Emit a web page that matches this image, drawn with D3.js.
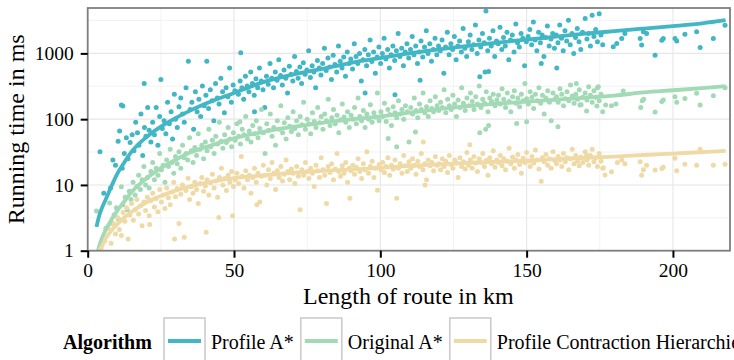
<!DOCTYPE html>
<html>
<head>
<meta charset="utf-8">
<script src="https://cdn.jsdelivr.net/npm/d3@7"></script>
<style>
  body { margin: 0; background: #fff; }
  svg { display: block; font-family: "Liberation Serif", "Times New Roman", serif; }
</style>
</head>
<body>
<svg id="chart" width="734" height="360"></svg>
<script>
// legend / series
const algorithms = ["Profile A*", "Original A*", "Profile Contraction Hierarchies"];
const colors = ["#41b6c4", "#a1dab4", "#efdaa6"];

const xTicks = [0, 50, 100, 150, 200];
const yTicks = [1, 10, 100, 1000];

// [route length in km, running time in ms]
const profileAStar = [
  [4.2,32],[5.5,7.5],[7.8,9],[8.6,24],[9.5,20],
  [10.4,46],[10.9,66],[11.5,164],[11.8,18],[12,158],[12.5,30],[13.2,52],[13.8,25],[14.5,44],[15.2,58],[15.8,33],[16.4,90],[17,62],[17.5,40],[18.2,120],[18.8,28],[19.3,350],[19.4,75],[19.9,55],
  [20.5,150],[21,68],[21.6,45],[22.2,90],[22.8,58],[23.4,150],[24,40],[24.6,110],[25,400],[25.5,72],[26.1,95],[26.7,60],[27.3,180],[27.9,85],[28.5,130],[29,50],[29.6,240],[30,100],
  [30.6,75],[31.2,155],[31.8,210],[32.4,120],[33,90],[33.6,300],[34.4,760],[35,140],[35.6,180],[36.2,70],[36.8,260],[37.4,130],[38,200],[38.6,110],[39.2,320],[39.8,160],[40.4,230],[40.7,760],
  [41.3,145],[41.9,280],[42.5,190],[43.1,95],[43.7,350],[44.3,210],[44.9,170],[45.5,420],[46.1,260],[46.7,125],[47.3,300],[47.9,220],[48.5,600],[49.1,180],[49.7,330],[50.3,270],[52.3,1020],
  [51.5,240],[52.1,380],[52.7,300],[53.3,200],[53.9,450],[54.5,320],[55.1,260],[55.7,520],[56.3,350],[56.9,230],[57,130],[57.5,410],[58.1,300],[58.7,600],[59.3,380],[59.9,280],
  [60.5,150],[61.1,450],[61.7,340],[62.3,700],[62.9,420],[63.5,300],[64.1,520],[64.7,390],[65.3,800],[65.9,460],[66.5,330],[67.1,560],[67.7,420],[68.3,250],[68.9,640],[69.5,480],
  [70.1,380],[70.7,900],[71.3,530],[71.9,420],[72.5,620],[73.1,350],[73.7,720],[74.3,480],[74.9,560],[75.5,1100],[76.1,430],[76.7,650],[77.3,520],[77.9,300],[78.5,780],[79.1,600],[79.7,470],
  [80.3,700],[80.9,1200],[81.5,550],[82.1,850],[82.7,620],[83.3,400],[83.9,940],[84.5,680],[85.1,520],[85.7,1300],[86.3,760],[86.9,600],[87.5,880],[88.1,450],[88.7,1050],[89.3,700],[89.9,820],
  [90.5,580],[91.1,1400],[91.7,900],[92.3,700],[92.9,1000],[93.5,380],[94.1,800],[94.7,1150],[94.8,250],[95.3,650],[95.9,950],[96.5,1600],[97.1,750],[97.7,1050],[98.3,500],[98.9,880],[99.5,1250],
  [100.1,700],[100.7,1000],[101.3,1700],[101.9,820],[102.5,1150],[103.1,600],[103.7,950],[104.3,1300],[104.9,780],[105,235],[105.5,1100],[106.1,2000],[106.7,900],[107.3,1200],[107.9,650],[108.5,1050],[109.1,1400],[109.7,850],
  [110.3,1150],[110.9,1800],[111.5,950],[112.1,1300],[112.7,700],[113.3,1050],[113.6,390],[113.9,1550],[114.5,880],[115.1,1250],[115.7,2200],[116.3,1000],[116.9,1400],[117.5,760],[118.1,1150],[118.7,1700],[119.3,950],[119.9,1300],
  [120.5,1100],[121.1,1600],[121.7,500],[122.3,1250],[122.9,2100],[123.5,950],[124.1,1400],[124.7,1150],[125.3,1800],[125.9,800],[126.5,1300],[127.1,1550],[127.7,1050],[128.3,2400],[128.9,1200],[129.5,900],
  [130.1,1500],[130.7,1900],[131.3,1150],[131.9,1350],[132.5,2700],[133.1,1000],[133.7,1600],[134,440],[134.3,1250],[134.9,2000],[135.5,1450],[135.8,520],[136.1,4400],[136.7,1100],[137,530],[137.3,1700],[137.9,1300],[138.5,2200],[139.1,900],[139.7,1550],
  [140.3,1400],[140.9,2500],[141.5,1150],[142.1,1750],[142.7,1300],[143.3,2100],[143.9,800],[144.5,1600],[145.1,1900],[145.7,1050],[146.3,2800],[146.9,1450],[147.5,1250],[148.1,2000],[148.7,1700],[149.3,650],[149.9,1500],
  [150.5,1800],[151.1,2300],[151.7,1350],[152.3,3000],[152.9,1600],[153.5,1100],[154.1,2100],[154.7,1450],[155,700],[155.3,1900],[155.9,900],[156.5,1750],[157.1,2600],[157.7,1300],[158.3,1650],[158.9,2000],[159.5,1200],
  [160.1,1900],[160.3,600],[160.7,1450],[161.3,2700],[161.9,1700],[162.5,1100],[163.1,2200],[163.7,1550],[164.3,3200],[164.9,1350],[165.5,2000],[166.1,1000],[166.7,1750],[167.3,2400],[167.9,1500],[168.5,1150],[169.1,2100],
  [170,3400],[170.6,1650],[171.2,2000],[171.8,1300],[172.4,3800],[173,1800],[173.6,2300],[174.2,1500],[174.8,4000],[175.4,1900],[176,1350],
  [179.6,1260],[180.8,1420],[182.5,1690],[183.6,2010],[188.8,1690],[189.3,1340],[189.9,2130],[191,2010],[193.9,940],[196.2,1590],[196.7,1690],[200.7,1690],[201.3,1540],[204.1,1950],[208.1,2130],[209.3,1230],[213.8,1690],[217.8,2690]
];

const originalAStar = [
  [3,4],[5,1.5],[6.2,2.2],[7.5,5.3],[8.3,2.6],[9,3.5],[9.8,4.5],
  [10.5,3],[11.5,9.4],[12,5],[12.8,6.5],[13.5,4.2],[14.2,8],[14.8,6],[15.5,11],[16.2,7],[16.8,9.5],[17.4,14],[18,8.5],[18.6,12],[19.2,19],[19.8,10],
  [20.4,13],[21,9],[21.6,16],[22.2,22],[22.8,12],[23.4,18],[24,14],[24.6,30],[25.2,17],[25.8,20],[26.4,11],[27,24],[27.6,19],[28.2,35],[28.8,22],[29.4,15],[30,27],
  [30.6,21],[31.2,32],[31.8,18],[32.4,40],[33,26],[33.6,30],[34.2,24],[34.8,52],[35.4,33],[36,22],[36.6,37],[37.2,28],[37.8,60],[38.4,35],[39,40],[39.6,25],
  [40.2,45],[40.8,33],[41.4,70],[42,38],[42.6,48],[43.2,30],[43.8,55],[44.4,42],[45,90],[45.6,46],[46.2,36],[46.8,58],[47.4,44],[48,75],[48.6,50],[49.2,38],[49.8,62],
  [50.4,48],[51,85],[51.6,55],[52,91],[52.2,42],[52.8,70],[53.4,58],[54,110],[54.6,50],[55.2,66],[55.8,45],[56.4,80],[57,60],[57.6,95],[58.2,52],[58.8,72],[59.4,140],[60,62],
  [60.6,30],[61.2,85],[61.8,68],[62.4,120],[63,55],[63.6,75],[64.2,40],[64.8,95],[65.4,70],[66,160],[66.6,62],[67.2,88],[67.8,50],[68.4,105],[69,78],[69.6,65],
  [70.2,130],[70.8,72],[71.4,95],[72,58],[72.6,110],[73.2,82],[73.8,180],[74.4,70],[75,100],[75.6,85],[76.2,60],[76.8,125],[77.4,92],[78,75],[78.6,150],[79.2,88],[79.8,110],
  [80.4,70],[81,120],[81.6,95],[82.2,200],[82.8,80],[83.4,105],[84,140],[84.6,85],[85.2,115],[85.8,62],[86.4,98],[87,170],[87.6,108],[88.2,90],[88.8,130],[89.4,75],[90,115],
  [90.6,100],[91.2,150],[91.8,85],[92.4,210],[93,110],[93.6,95],[94.2,135],[94.8,75],[95.4,120],[96,100],[96.6,165],[97.2,90],[97.8,125],[98.4,108],[99,250],[99.6,95],
  [100.2,130],[100.8,110],[101.4,175],[102,92],[102.6,140],[102.7,51],[103.2,118],[103.8,80],[104.4,155],[105,125],[105.6,38],[105.6,105],[106.2,190],[106.8,120],[107.4,140],[108,100],[108.6,160],[109.2,130],[109.8,45],
  [110.4,150],[111,120],[111.6,210],[112,64],[112.2,135],[112.8,105],[113.4,170],[114,140],[114.6,250],[115.2,125],[115.8,155],[116.4,110],[117,190],[117.6,145],[118.2,130],[118.8,220],[119.4,160],
  [120,135],[120.6,180],[121.2,150],[121.8,280],[122.4,125],[123,200],[123.6,160],[124.2,140],[124.8,230],[125.4,170],[126,110],[126.6,195],[127.2,150],[127.8,300],[128.4,175],[129,135],[129.6,210],
  [130.2,160],[130.8,250],[131.4,185],[132,140],[132.6,220],[133.2,170],[133.8,320],[134,62],[134.4,150],[135,200],[135.6,175],[136,70],[136.2,260],[136.8,130],[137,80],[137.4,210],[138,185],[138.6,240],[139.2,160],[139.8,195],
  [140.4,230],[141,170],[141.6,290],[142.2,200],[142.8,150],[143.4,250],[144,185],[144.6,130],[145.2,220],[145.8,270],[146.4,175],[146.6,86],[147,210],[147.6,155],[148.2,240],[148.8,190],[149.4,350],[150,205],[150,91],
  [150.6,170],[151.2,260],[151.8,215],[152.4,145],[153,240],[153.6,190],[154.2,300],[154.8,175],[155.4,230],[156,120],[156.6,210],[157.2,270],[157.8,180],[158.4,95],[159,250],[159.6,200],
  [160.2,220],[160.7,77],[160.8,180],[161.4,290],[162,240],[162.6,160],[163.2,205],[163.8,260],[164.4,190],[165,330],[165.6,225],[166.2,175],[166.8,240],[167,350],[167.4,200],[168,280],[168.2,164],[168.6,165],[169.2,215],
  [170,250],[170.5,133],[170.6,195],[171.2,310],[171.8,230],[172.4,180],[173,270],[173.6,215],[174,158],[174.2,300],[174.5,310],[174.8,190],[175.4,240],[176,130],
  [177,164],[179,160],[180.5,170],[183,268],[189,150],[189.5,190],[190,200],[193.9,129],[196.2,185],[196.7,195],[200.7,220],[201.3,180],[204.1,207],[208.1,247],[209.3,164],[213.8,227],[217.8,300]
];

const profileCH = [
  [4.6,1.1],[5.8,1.4],[7,2.2],[8,1.3],[8.8,2.6],[9.5,1.8],
  [10.2,3.2],[10.8,2.1],[11.5,1.7],[12.1,3.8],[12.7,2.8],[13.3,4.5],[13.8,1.5],[14.4,3.5],[15,5.2],[15.6,2.9],[16.2,4.2],[16.8,6],[17.4,3.6],[18,4.8],[18.6,2.4],[19.2,5.5],[19.8,4.1],
  [20.4,6.5],[21,3.4],[21.2,2.5],[21.6,5.8],[22.2,7.5],[22.8,4.6],[23.4,6.2],[24,3.9],[24.6,8.5],[25.2,5.5],[25.8,7],[26.4,4.4],[27,9],[27.6,6.4],[28.2,5],[28.8,7.8],[29.4,11],[29.7,1.5],
  [30,6.6],[30.6,8.8],[31.2,2.6],[31.8,7.2],[32.4,10],[33,1.6],[33.6,8.2],[34.3,12.6],[34.8,6],[35.4,9.4],[36,7.5],[36.6,11],[37.2,8.5],[37.8,5.2],[38.4,10.5],[39,13],[39.6,8],
  [40.2,9.6],[40.5,1.9],[40.8,12],[41.4,7],[42,10.8],[42.6,14.5],[43.2,9],[43.8,11.5],[44.4,6.5],[44.8,3.2],[45,13],[45.7,17.9],[46.2,10],[46.8,12.5],[47.4,8.2],[48,14],[48.6,11],[49.2,16],[49.5,3.4],[49.8,9.5],
  [50.4,12],[51,15],[51.6,10.5],[52.5,27],[52.8,13.5],[53.4,9],[54,16.5],[54.6,12],[55.2,14],[55.8,7.5],[56.4,13],[57,18],[57.6,11],[57.8,5],[58.2,15],[58.8,5.5],[59.4,13.5],[60,20],
  [60.6,14],[61.2,10],[61.8,17],[62.4,12.5],[63,22],[63.6,15],[64.2,8.5],[64.8,16.5],[65.4,13],[66,19],[66.6,11.5],[67.2,14.5],[67.8,24],[68.4,16],[69,12],[69.6,17.5],
  [70.2,15],[70.8,10.5],[71.4,19],[72,13.5],[72.6,4.2],[73.2,17],[73.8,14],[74.4,22],[75,16],[75.6,12.5],[76.2,18],[76.8,15],[77.4,9.5],[78,20],[78.6,16.5],[79.2,13],[79.8,26],
  [80.4,17],[81,14],[81.6,5.2],[82.2,19],[82.8,15.5],[83.4,21],[84,12],[84.6,17.5],[85.2,30],[85.8,16],[86.4,13.5],[87,19.5],[87.6,15],[88.2,22],[88.8,11],[89.4,18],[89.6,6.3],[90,16.5],
  [90.6,20],[91.2,14.5],[91.8,18.5],[92.4,25],[93,16],[93.6,12.5],[94.2,21],[94.8,17],[95.4,32],[96,15],[96.6,19],[97.2,23],[97.8,13],[98.4,18],[99,8.3],[99.6,20.5],
  [100.2,17],[100.8,22],[101.4,15.5],[102,19],[102.6,26],[103.2,14],[103.8,20],[104.4,17.5],[105,24],[105.6,6.3],[106.2,18],[106.8,21],[107.4,15],[108,28],[108.6,19.5],[109.2,16],[109.8,22.5],
  [110.4,18],[111,25],[111.6,20],[112.2,14.5],[112.8,23],[113.4,19],[114,30],[114.6,17],[114.7,45],[115.2,21],[115.3,10],[115.8,12],[116.4,24],[117,19.5],[117.6,22],[118.2,16.5],[118.8,27],[119.4,20],
  [120,21],[120.6,17],[121.2,25],[121.8,19],[122.4,23],[123,15.5],[123.6,28],[124.2,20.5],[124.8,18],[125.4,24],[126,21.5],[126.6,13],[127.2,26],[127.8,19],[128.4,22.5],[129,17.5],[129.6,31],
  [130.2,20],[130.6,41],[130.8,24],[131.4,18],[132,27],[132.6,21.5],[133.2,16],[133.8,25],[134.4,22],[135,30],[135.6,19],[136.2,23.5],[136.8,14],[137.4,26],[138,21],[138.6,33],[139.2,18.5],[139.8,24],
  [140.4,22],[141,28],[141.6,19.5],[142.2,25],[142.8,17],[143.4,23],[144,36],[144.6,21],[145.2,26.5],[145.8,18],[146.4,24],[147,29],[147.6,20.5],[148.2,15],[148.8,25.5],[149.4,22],[150,31],
  [150.6,23],[151.2,19],[151.8,27],[152.4,21.5],[153,34],[153.6,24],[154.2,17.5],[155,11.4],[155.4,26],[156,22.5],[156.6,29],[157.2,20],[157.8,25],[158.4,18],[159,32],[159.6,23.5],
  [160.2,21],[160.8,27],[161.4,24],[162,19],[162.6,30],[163.2,22.5],[163.8,26],[164.4,17],[165,25],[165.6,35],[166.2,21],[166.8,28],[167.4,23],[168,19.5],[168.6,26.5],[169.2,22],
  [170,32],[170.5,28.5],[170.6,24],[171.2,20],[171.8,28],[172.4,35],[173,22.5],[173.6,26],[174.2,19],[174.8,30],[175.4,23],[176,18],
  [176.2,18.3],[176.8,14.1],[179,15.9],[181,22],[182.5,24],[183.6,21],[188.8,22.5],[189.3,14],[189.9,17],[191,20],[193.9,16.8],[196.2,17.7],[196.7,18.5],[200.7,25.4],[201.3,16.4],[204.1,20.6],[208.1,20],[209.3,35],[213.8,20],[217.8,20.6]
];

// smoothed trend per algorithm
const trendKm = [3, 4, 5, 6, 8, 10, 12.5, 15, 20, 25, 30, 35, 40, 50, 60, 70, 80, 90, 100, 110, 120, 130, 140, 150, 160, 170, 180, 190, 200, 210, 218];
const trendProfileAStar = [2.3, 3.5, 4.6, 5.8, 9.3, 14.5, 22, 32, 53, 77, 104, 135, 170, 250, 365, 475, 580, 720, 850, 1000, 1150, 1300, 1460, 1620, 1800, 2000, 2180, 2380, 2600, 2870, 3200];
const trendOriginalAStar = [0.8, 1.2, 1.6, 2, 2.9, 4, 5.6, 7.8, 12.5, 18, 24, 31, 37, 51, 64, 76, 88, 99, 110, 126, 142, 158, 172, 185, 198, 212, 228, 255, 275, 296, 318];
const trendProfileCH = [0.6, 1.0, 1.2, 1.5, 2, 2.5, 3.2, 3.9, 5.4, 6.8, 8.2, 9.5, 10.7, 12.7, 14, 15.3, 16.3, 17.2, 18.2, 19.5, 20.6, 21.6, 22.5, 23.3, 24.6, 25.8, 27, 28.5, 30, 31.5, 33];

const points = [profileAStar, originalAStar, profileCH];
const trends = [trendProfileAStar, trendOriginalAStar, trendProfileCH];

const svg = d3.select("#chart");
const pLeft = 87.7, pRight = 730, pTop = 8, pBottom = 250.7;

const x = d3.scaleLinear().domain([0, 219.5]).range([pLeft, pRight]);
const y = d3.scaleLog().domain([1, 4900]).range([pBottom, pTop]);

// panel
svg.append("rect").attr("x", pLeft).attr("y", pTop)
  .attr("width", pRight - pLeft).attr("height", pBottom - pTop).attr("fill", "#fff");

const grid = svg.append("g");
// minor grid
grid.selectAll(".vminor").data([25, 75, 125, 175]).enter().append("line")
  .attr("x1", d => x(d)).attr("x2", d => x(d)).attr("y1", pTop).attr("y2", pBottom)
  .attr("stroke", "#f3f3f3").attr("stroke-width", 1);
grid.selectAll(".hminor").data([Math.sqrt(10), Math.sqrt(1000), Math.sqrt(100000), Math.sqrt(10000000)]).enter().append("line")
  .attr("x1", pLeft).attr("x2", pRight).attr("y1", d => y(d)).attr("y2", d => y(d))
  .attr("stroke", "#f3f3f3").attr("stroke-width", 1);
// major grid
grid.selectAll(".vmajor").data(xTicks).enter().append("line")
  .attr("x1", d => x(d)).attr("x2", d => x(d)).attr("y1", pTop).attr("y2", pBottom)
  .attr("stroke", "#e6e6e6").attr("stroke-width", 1.1);
grid.selectAll(".hmajor").data(yTicks).enter().append("line")
  .attr("x1", pLeft).attr("x2", pRight).attr("y1", d => y(d)).attr("y2", d => y(d))
  .attr("stroke", "#e6e6e6").attr("stroke-width", 1.1);

svg.append("clipPath").attr("id", "clip").append("rect")
  .attr("x", pLeft).attr("y", pTop).attr("width", pRight - pLeft).attr("height", pBottom - pTop);

const plot = svg.append("g").attr("clip-path", "url(#clip)");

points.forEach(function(series, i) {
  plot.append("g").selectAll("circle")
    .data(series)
    .enter().append("circle")
    .attr("cx", d => x(d[0]))
    .attr("cy", d => y(d[1]))
    .attr("r", 2.5)
    .attr("fill", colors[i]);
});

const line = d3.line().curve(d3.curveMonotoneX);
trends.forEach(function(vals, i) {
  plot.append("path")
    .attr("d", line(trendKm.map((k, j) => [x(k), y(vals[j])])))
    .attr("fill", "none")
    .attr("stroke", colors[i])
    .attr("stroke-width", 3.8)
    .attr("stroke-linecap", "butt");
});

// panel border
svg.append("rect").attr("x", pLeft).attr("y", pTop)
  .attr("width", pRight - pLeft).attr("height", pBottom - pTop)
  .attr("fill", "none").attr("stroke", "#7f7f7f").attr("stroke-width", 1.8);

// axes
const xAxis = svg.append("g").attr("transform", `translate(0,${pBottom})`)
  .call(d3.axisBottom(x).tickValues(xTicks).tickSize(7).tickPadding(5).tickFormat(d3.format("d")));
const yAxis = svg.append("g").attr("transform", `translate(${pLeft},0)`)
  .call(d3.axisLeft(y).tickValues(yTicks).tickSize(7).tickPadding(7).tickFormat(d3.format("d")));
[xAxis, yAxis].forEach(function(ax) {
  ax.select(".domain").remove();
  ax.selectAll(".tick line").attr("stroke", "#000").attr("stroke-width", 2);
  ax.selectAll(".tick text").attr("fill", "#000")
    .style("font-family", '"Liberation Serif", "Times New Roman", serif')
    .style("font-size", "19.5px");
});

// axis titles
svg.append("text")
  .attr("x", (pLeft + pRight) / 2 - 0.5).attr("y", 303.5)
  .attr("text-anchor", "middle").style("font-size", "24px")
  .text("Length of route in km");
svg.append("text")
  .attr("transform", `translate(24,${(pTop + pBottom) / 2}) rotate(-90)`)
  .attr("text-anchor", "middle").style("font-size", "24px")
  .text("Running time in ms");

// legend
const legend = svg.append("g");
legend.append("text").attr("x", 63).attr("y", 349)
  .style("font-size", "20px").style("font-weight", "bold")
  .text("Algorithm");

let lx = 164;
algorithms.forEach(function(name, i) {
  const g = legend.append("g");
  g.append("rect").attr("x", lx).attr("y", 318).attr("width", 41).attr("height", 46)
    .attr("fill", "#fff").attr("stroke", "#cccccc").attr("stroke-width", 1.6);
  g.append("line").attr("x1", lx + 4).attr("x2", lx + 37).attr("y1", 341).attr("y2", 341)
    .attr("stroke", colors[i]).attr("stroke-width", 4);
  const t = g.append("text").attr("x", lx + 47).attr("y", 349)
    .style("font-size", "20px").text(name);
  lx = lx + 47 + t.node().getComputedTextLength() + 7;
});
</script>
</body>
</html>
